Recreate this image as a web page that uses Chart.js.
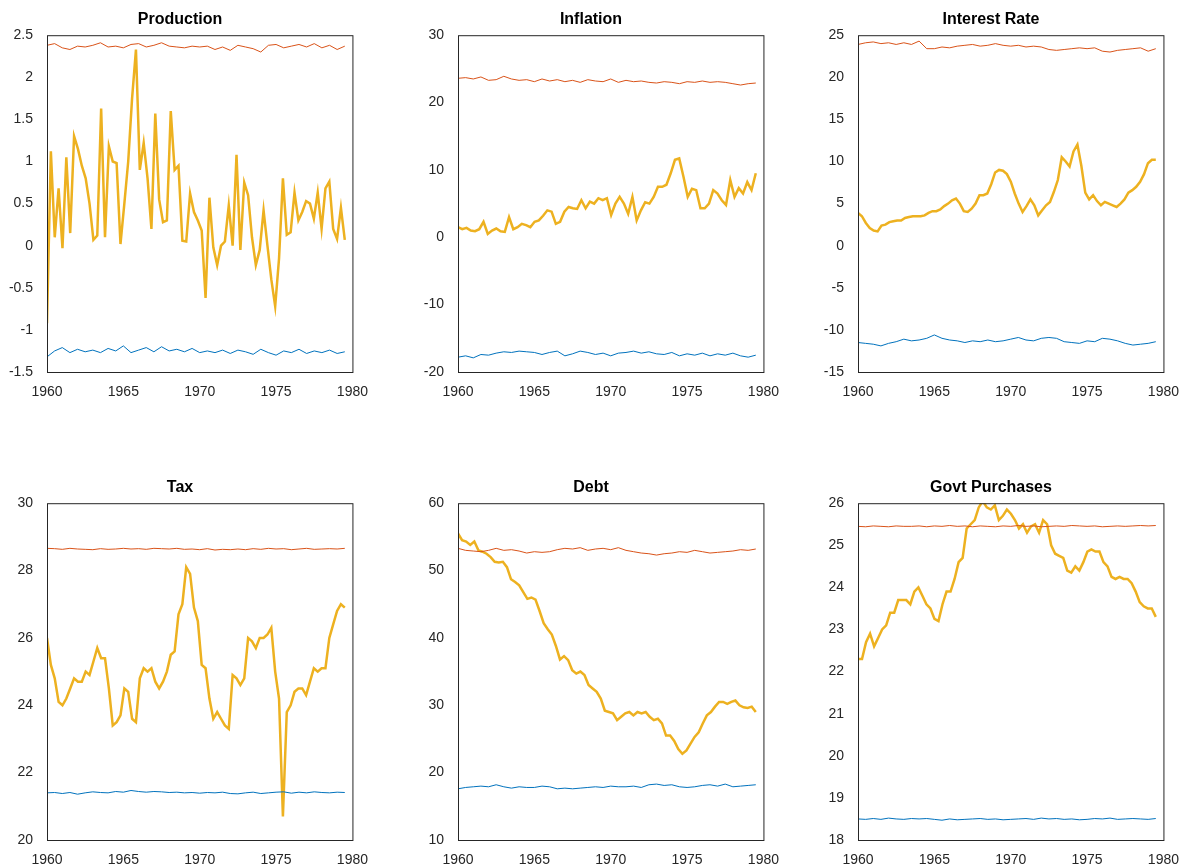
<!DOCTYPE html>
<html>
<head>
<meta charset="utf-8">
<script src="https://cdn.jsdelivr.net/npm/chart.js@4"></script>
<style>
  body { margin: 0; background: #fff; width: 1193px; height: 867px; position: relative; overflow: hidden; }
  .panel { position: absolute; width: 366px; height: 392px; }
</style>
</head>
<body>
<div class="panel" id="p0" style="left:6px;top:10px"><canvas id="c0"></canvas></div>
<div class="panel" id="p1" style="left:417px;top:10px"><canvas id="c1"></canvas></div>
<div class="panel" id="p2" style="left:817px;top:10px"><canvas id="c2"></canvas></div>
<div class="panel" id="p3" style="left:6px;top:478px"><canvas id="c3"></canvas></div>
<div class="panel" id="p4" style="left:417px;top:478px"><canvas id="c4"></canvas></div>
<div class="panel" id="p5" style="left:817px;top:478px"><canvas id="c5"></canvas></div>
<script>
const xTicks = [1960, 1965, 1970, 1975, 1980];
const firstYear = 1960;
const lastYear = 1979.5;

// yellow series, roughly quarterly from 1960
const production = [-0.92,1.12,0.1,0.68,-0.03,1.05,0.15,1.3,1.15,0.95,0.8,0.5,0.07,0.12,1.63,0.1,1.18,1.0,0.98,0.02,0.5,1.0,1.75,2.33,0.9,1.22,0.8,0.2,1.57,0.55,0.28,0.3,1.6,0.9,0.95,0.06,0.05,0.62,0.4,0.3,0.18,-0.62,0.57,-0.02,-0.23,0.0,0.05,0.48,0.0,1.08,-0.05,0.75,0.6,0.1,-0.23,-0.05,0.42,0.0,-0.4,-0.72,-0.15,0.8,0.13,0.16,0.63,0.3,0.4,0.53,0.5,0.32,0.63,0.2,0.68,0.76,0.2,0.08,0.45,0.07];
const inflation = [1.5,1.2,1.4,1.0,0.9,1.2,2.3,0.5,1.0,1.3,0.9,0.8,3.0,1.2,1.5,2.0,1.8,1.5,2.3,2.5,3.2,4.0,3.8,2.0,2.3,3.8,4.5,4.3,4.2,5.5,4.3,5.3,5.0,5.8,5.5,5.8,3.3,5.0,6.0,5.0,3.5,6.0,2.5,4.0,5.2,5.0,6.0,7.5,7.5,7.8,9.5,11.5,11.7,9.0,6.0,7.2,7.0,4.3,4.3,5.0,7.0,6.5,5.5,4.8,8.5,6.0,7.3,6.5,8.2,7.0,9.5];
const interest = [3.9,3.5,2.7,2.1,1.8,1.7,2.4,2.5,2.8,2.9,3.0,3.0,3.3,3.4,3.5,3.5,3.5,3.6,3.9,4.1,4.1,4.3,4.7,5.0,5.4,5.6,5.0,4.1,4.0,4.4,5.0,6.0,6.0,6.2,7.3,8.7,9.0,8.9,8.5,7.6,6.2,5.0,4.0,4.7,5.5,4.8,3.6,4.2,4.8,5.2,6.4,7.8,10.5,10.0,9.4,11.2,12.0,9.5,6.3,5.5,6.0,5.3,4.8,5.2,5.0,4.8,4.6,5.0,5.5,6.3,6.6,7.0,7.6,8.5,9.8,10.2,10.2];
const tax = [26.0,25.2,24.8,24.1,24.0,24.2,24.5,24.8,24.7,24.7,25.0,24.9,25.3,25.7,25.4,25.4,24.5,23.4,23.5,23.7,24.5,24.4,23.6,23.5,24.8,25.1,25.0,25.1,24.7,24.5,24.7,25.0,25.5,25.6,26.7,27.0,28.1,27.9,26.9,26.5,25.2,25.1,24.2,23.6,23.8,23.6,23.4,23.3,24.9,24.8,24.6,24.8,26.0,25.9,25.7,26.0,26.0,26.1,26.3,25.0,24.2,20.7,23.8,24.0,24.4,24.5,24.5,24.3,24.7,25.1,25.0,25.1,25.1,26.0,26.4,26.8,27.0,26.9];
const debt = [55.5,54.5,54.3,53.8,54.3,53.0,52.8,52.5,52.0,51.3,51.2,51.3,50.5,48.7,48.3,47.8,46.8,45.8,46.0,45.7,44.0,42.2,41.3,40.5,38.8,36.8,37.3,36.7,35.2,34.7,35.0,34.5,33.0,32.5,32.0,31.0,29.2,29.0,28.8,27.8,28.3,28.8,29.0,28.5,29.0,28.8,29.0,28.3,27.8,28.0,27.3,25.5,25.5,24.7,23.5,22.8,23.3,24.3,25.3,26.0,27.3,28.5,29.0,29.8,30.5,30.5,30.2,30.5,30.7,30.0,29.7,29.6,29.8,29.0];
const govt = [22.3,22.3,22.7,22.9,22.6,22.8,23.0,23.1,23.4,23.4,23.7,23.7,23.7,23.6,23.9,24.0,23.8,23.6,23.5,23.25,23.2,23.6,23.9,23.9,24.2,24.6,24.7,25.4,25.5,25.6,25.9,26.05,25.9,25.85,25.95,25.6,25.7,25.85,25.75,25.6,25.4,25.5,25.3,25.45,25.5,25.3,25.6,25.5,25.0,24.8,24.75,24.7,24.4,24.35,24.5,24.4,24.6,24.85,24.9,24.85,24.85,24.6,24.5,24.25,24.2,24.25,24.2,24.2,24.1,23.9,23.65,23.55,23.5,23.5,23.3];

// upper (red) and lower (blue) bands, half-yearly
const prodUpper = [2.38,2.40,2.35,2.33,2.37,2.36,2.38,2.41,2.36,2.37,2.35,2.39,2.40,2.36,2.38,2.41,2.37,2.36,2.35,2.37,2.36,2.37,2.33,2.36,2.32,2.38,2.36,2.34,2.30,2.38,2.39,2.35,2.37,2.39,2.36,2.40,2.35,2.38,2.33,2.37];
const prodLower = [-1.32,-1.25,-1.21,-1.27,-1.23,-1.26,-1.24,-1.27,-1.22,-1.25,-1.19,-1.27,-1.24,-1.21,-1.26,-1.20,-1.25,-1.23,-1.26,-1.22,-1.27,-1.25,-1.27,-1.24,-1.28,-1.24,-1.26,-1.29,-1.23,-1.27,-1.30,-1.25,-1.27,-1.23,-1.28,-1.25,-1.27,-1.24,-1.28,-1.26];
const inflUpper = [23.6,23.7,23.5,23.8,23.3,23.4,23.9,23.5,23.3,23.4,23.1,23.5,23.2,23.4,23.1,23.3,23.0,23.4,23.2,23.1,23.5,23.0,23.3,23.1,23.2,23.0,22.9,23.1,23.0,22.8,23.1,23.0,23.2,23.0,23.1,23.0,22.8,22.6,22.8,22.9];
const inflLower = [-17.8,-17.6,-17.9,-17.4,-17.5,-17.2,-17.0,-17.1,-16.9,-17.0,-17.1,-17.4,-17.1,-16.9,-17.6,-17.3,-16.9,-17.1,-17.4,-17.2,-17.6,-17.2,-17.1,-16.9,-17.2,-17.0,-17.3,-17.4,-17.1,-17.6,-17.3,-17.5,-17.2,-17.6,-17.3,-17.5,-17.2,-17.6,-17.8,-17.5];
const intUpper = [23.9,24.1,24.2,24.0,24.1,23.9,24.1,23.9,24.3,23.4,23.4,23.6,23.5,23.7,23.8,23.9,23.7,23.8,24.0,23.8,23.7,23.8,23.6,23.7,23.6,23.3,23.2,23.3,23.4,23.5,23.4,23.5,23.1,23.0,23.2,23.3,23.4,23.5,23.1,23.4];
const intLower = [-11.5,-11.6,-11.7,-11.9,-11.6,-11.4,-11.1,-11.3,-11.2,-11.0,-10.6,-11.0,-11.2,-11.3,-11.5,-11.3,-11.4,-11.2,-11.4,-11.3,-11.1,-10.9,-11.2,-11.3,-11.0,-10.9,-11.0,-11.4,-11.5,-11.6,-11.3,-11.4,-11.0,-11.1,-11.3,-11.6,-11.8,-11.7,-11.6,-11.4];
const taxUpper = [28.66,28.65,28.63,28.66,28.64,28.63,28.62,28.65,28.63,28.64,28.66,28.64,28.65,28.63,28.66,28.65,28.64,28.66,28.63,28.64,28.62,28.65,28.61,28.63,28.62,28.64,28.62,28.65,28.63,28.66,28.64,28.65,28.62,28.64,28.66,28.63,28.64,28.65,28.64,28.66];
const taxLower = [21.40,21.41,21.38,21.41,21.36,21.40,21.43,21.41,21.40,21.44,21.42,21.47,21.44,21.42,21.44,21.43,21.41,21.42,21.40,21.41,21.39,21.41,21.40,21.42,21.38,21.37,21.40,21.42,21.38,21.40,21.42,21.43,21.39,21.42,21.40,21.43,21.41,21.40,21.42,21.41];
const debtUpper = [53.3,53.0,52.9,52.8,53.0,53.3,53.0,53.1,52.9,52.6,52.8,52.7,52.8,53.1,53.3,53.2,53.4,53.0,53.2,53.3,53.1,53.4,53.0,52.8,52.6,52.5,52.3,52.5,52.6,52.8,52.7,53.0,52.8,52.6,52.7,52.8,52.9,53.1,53.0,53.2];
const debtLower = [17.6,17.8,17.9,18.0,17.9,18.2,17.9,17.7,17.9,17.8,17.8,18.0,17.9,17.6,17.7,17.6,17.7,17.8,17.9,17.8,18.0,17.9,17.9,18.0,17.8,18.2,18.3,18.1,18.2,17.9,17.8,17.9,18.1,18.2,18.0,18.3,17.9,18.0,18.1,18.2];
const govtUpper = [25.45,25.44,25.46,25.45,25.44,25.46,25.45,25.45,25.46,25.44,25.46,25.45,25.47,25.45,25.46,25.44,25.46,25.45,25.44,25.46,25.45,25.47,25.45,25.46,25.44,25.45,25.46,25.45,25.47,25.46,25.45,25.46,25.44,25.45,25.46,25.45,25.46,25.47,25.46,25.47];
const govtLower = [18.50,18.49,18.51,18.49,18.52,18.50,18.49,18.51,18.50,18.51,18.49,18.47,18.50,18.48,18.49,18.50,18.51,18.49,18.50,18.48,18.49,18.50,18.51,18.49,18.52,18.50,18.51,18.49,18.50,18.48,18.49,18.51,18.50,18.52,18.49,18.50,18.51,18.50,18.49,18.51];

const panels = [
  { title: "Production", main: production, upper: prodUpper, lower: prodLower, min: -1.5, max: 2.5, step: 0.5 },
  { title: "Inflation", main: inflation, upper: inflUpper, lower: inflLower, min: -20, max: 30, step: 10 },
  { title: "Interest Rate", main: interest, upper: intUpper, lower: intLower, min: -15, max: 25, step: 5 },
  { title: "Tax", main: tax, upper: taxUpper, lower: taxLower, min: 20, max: 30, step: 2 },
  { title: "Debt", main: debt, upper: debtUpper, lower: debtLower, min: 10, max: 60, step: 10 },
  { title: "Govt Purchases", main: govt, upper: govtUpper, lower: govtLower, min: 18, max: 26, step: 1 },
];

// spread each series evenly over the sample period
const toPoints = (arr) => {
  const dx = (lastYear - firstYear) / (arr.length - 1);
  return arr.map((v, i) => ({ x: firstYear + i * dx, y: v }));
};

const boxPlugin = {
  id: "box",
  afterDraw(chart) {
    const a = chart.chartArea, ctx = chart.ctx;
    ctx.save();
    ctx.strokeStyle = "#262626";
    ctx.lineWidth = 1;
    ctx.strokeRect(a.left + 0.5, a.top + 0.5, a.right - a.left, a.bottom - a.top);
    ctx.restore();
  }
};

const font = { family: "Liberation Sans, Arial, sans-serif", size: 14 };

panels.forEach((p, k) => {
  new Chart(document.getElementById("c" + k), {
    type: "line",
    data: {
      datasets: [
        { data: toPoints(p.upper), borderColor: "#D95319", borderWidth: 1, pointRadius: 0, tension: 0 },
        { data: toPoints(p.lower), borderColor: "#0072BD", borderWidth: 1, pointRadius: 0, tension: 0 },
        { data: toPoints(p.main), borderColor: "#EDB120", borderWidth: 2.5, pointRadius: 0, tension: 0 },
      ],
    },
    options: {
      responsive: true,
      maintainAspectRatio: false,
      animation: false,
      layout: { padding: { right: 18, top: 0, bottom: 0, left: 0 } },
      plugins: {
        legend: { display: false },
        tooltip: { enabled: false },
        title: {
          display: true,
          text: p.title,
          color: "#000",
          font: { family: font.family, size: 16, weight: "bold" },
          padding: { top: 0, bottom: 6 },
        },
      },
      scales: {
        x: {
          type: "linear",
          min: 1960,
          max: 1980,
          afterBuildTicks: (ax) => { ax.ticks = xTicks.map((v) => ({ value: v })); },
          afterFit: (ax) => { ax.height = 30; },
          grid: { display: false },
          border: { display: false },
          ticks: { color: "#262626", font: font, maxRotation: 0, padding: 4, callback: (v) => String(v) },
        },
        y: {
          min: p.min,
          max: p.max,
          afterFit: (ax) => { ax.width = 41; },
          grid: { display: false },
          border: { display: false },
          ticks: { stepSize: p.step, color: "#262626", font: font, padding: 6, callback: (v) => String(v) },
        },
      },
    },
    plugins: [boxPlugin],
  });
});
</script>
</body>
</html>
